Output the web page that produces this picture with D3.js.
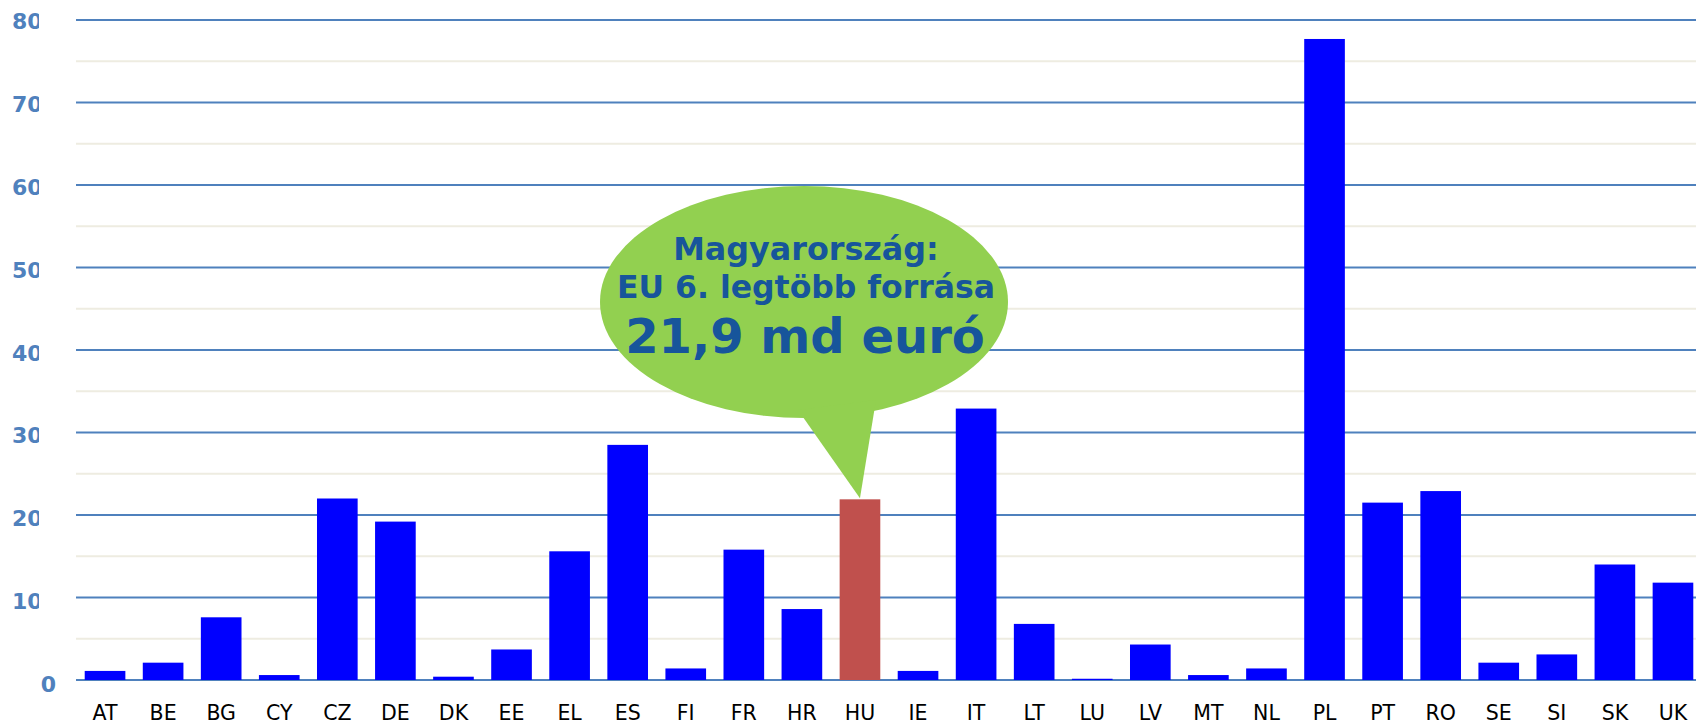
<!DOCTYPE html>
<html>
<head>
<meta charset="utf-8">
<script src="https://cdn.jsdelivr.net/npm/d3@7"></script>
<style>
  html, body { margin: 0; padding: 0; background: #fff; }
  svg { display: block; }
</style>
</head>
<body>
<div id="chart"></div>
<script>
// Data
const countries = ["AT","BE","BG","CY","CZ","DE","DK","EE","EL","ES","FI","FR","HR","HU",
  "IE","IT","LT","LU","LV","MT","NL","PL","PT","RO","SE","SI","SK","UK"];
const funds = [1.1, 2.1, 7.6, 0.6, 22.0, 19.2, 0.4, 3.7, 15.6, 28.5, 1.4, 15.8, 8.6, 21.9,
  1.1, 32.9, 6.8, 0.15, 4.3, 0.6, 1.4, 77.7, 21.5, 22.9, 2.1, 3.1, 14.0, 11.8];
const highlight = "HU";
const majorTicks = [0, 10, 20, 30, 40, 50, 60, 70, 80];
const minorTicks = [5, 15, 25, 35, 45, 55, 65, 75];
const calloutLines = ["Magyarország:", "EU 6. legtöbb forrása", "21,9 md euró"];

const width = 1696, height = 724;
const plotLeft = 76, plotTop = 20, plotBottom = 680;

const svg = d3.select("#chart").append("svg")
  .attr("width", width)
  .attr("height", height)
  .style("font-family", "'DejaVu Sans', Verdana, sans-serif");

const x = d3.scaleBand()
  .domain(countries)
  .range([plotLeft, 1702])
  .paddingInner(0.3)
  .paddingOuter(0.15);

const y = d3.scaleLinear().domain([0, 80]).range([plotBottom, plotTop]);

// gridlines
svg.append("g").selectAll("line")
  .data(minorTicks)
  .join("line")
    .attr("x1", plotLeft).attr("x2", width)
    .attr("y1", d => y(d)).attr("y2", d => y(d))
    .attr("stroke", "#eeece1")
    .attr("stroke-width", 2);

svg.append("g").selectAll("line")
  .data(majorTicks)
  .join("line")
    .attr("x1", plotLeft).attr("x2", width)
    .attr("y1", d => y(d)).attr("y2", d => y(d))
    .attr("stroke", "#4f81bd")
    .attr("stroke-width", 2);

// y labels (two-digit labels are cut off on the right like in the source)
svg.append("defs").append("clipPath").attr("id", "ylab-clip")
  .append("rect").attr("x", 0).attr("y", 0).attr("width", 39).attr("height", height);

svg.append("g").attr("clip-path", "url(#ylab-clip)")
  .selectAll("text")
  .data(majorTicks.filter(d => d > 0))
  .join("text")
    .attr("x", 12)
    .attr("y", d => y(d) + 9 + (80 - d) / 80 * 3)
    .attr("fill", "#4f81bd")
    .attr("font-weight", "bold")
    .attr("font-size", 22)
    .text(d => d);

svg.append("text")
  .attr("x", 56)
  .attr("y", y(0) + 12)
  .attr("text-anchor", "end")
  .attr("fill", "#4f81bd")
  .attr("font-weight", "bold")
  .attr("font-size", 22)
  .text(0);

// bars
svg.append("g").selectAll("rect")
  .data(countries.map((c, i) => ({ c, v: funds[i] })))
  .join("rect")
    .attr("x", d => x(d.c))
    .attr("width", x.bandwidth())
    .attr("y", d => y(d.v))
    .attr("height", d => y(0) - y(d.v))
    .attr("fill", d => d.c === highlight ? "#c0504d" : "#0000ff");

// x labels
svg.append("g").selectAll("text")
  .data(countries)
  .join("text")
    .attr("x", d => x(d) + x.bandwidth() / 2)
    .attr("y", 720)
    .attr("text-anchor", "middle")
    .attr("font-size", 20.5)
    .attr("fill", "#000")
    .text(d => d);

// callout bubble
const huIdx = countries.indexOf(highlight);
const tipX = x(highlight) + x.bandwidth() / 2;
const tipY = y(funds[huIdx]) - 1;
const bubble = svg.append("g");
bubble.append("ellipse")
  .attr("cx", 804).attr("cy", 302)
  .attr("rx", 204).attr("ry", 116)
  .attr("fill", "#92d050");
bubble.append("path")
  .attr("d", `M798,410 L${tipX},${tipY} L876,400 Z`)
  .attr("fill", "#92d050");

const textColor = "#17559b";
bubble.append("text")
  .attr("x", 806).attr("y", 260)
  .attr("text-anchor", "middle")
  .attr("font-weight", "bold").attr("font-size", 31.8)
  .attr("fill", textColor)
  .text(calloutLines[0]);
bubble.append("text")
  .attr("x", 806).attr("y", 298)
  .attr("text-anchor", "middle")
  .attr("font-weight", "bold").attr("font-size", 31.5)
  .attr("fill", textColor)
  .text(calloutLines[1]);
bubble.append("text")
  .attr("x", 805).attr("y", 353)
  .attr("text-anchor", "middle")
  .attr("font-weight", "bold").attr("font-size", 48)
  .attr("fill", textColor)
  .text(calloutLines[2]);
</script>
</body>
</html>
